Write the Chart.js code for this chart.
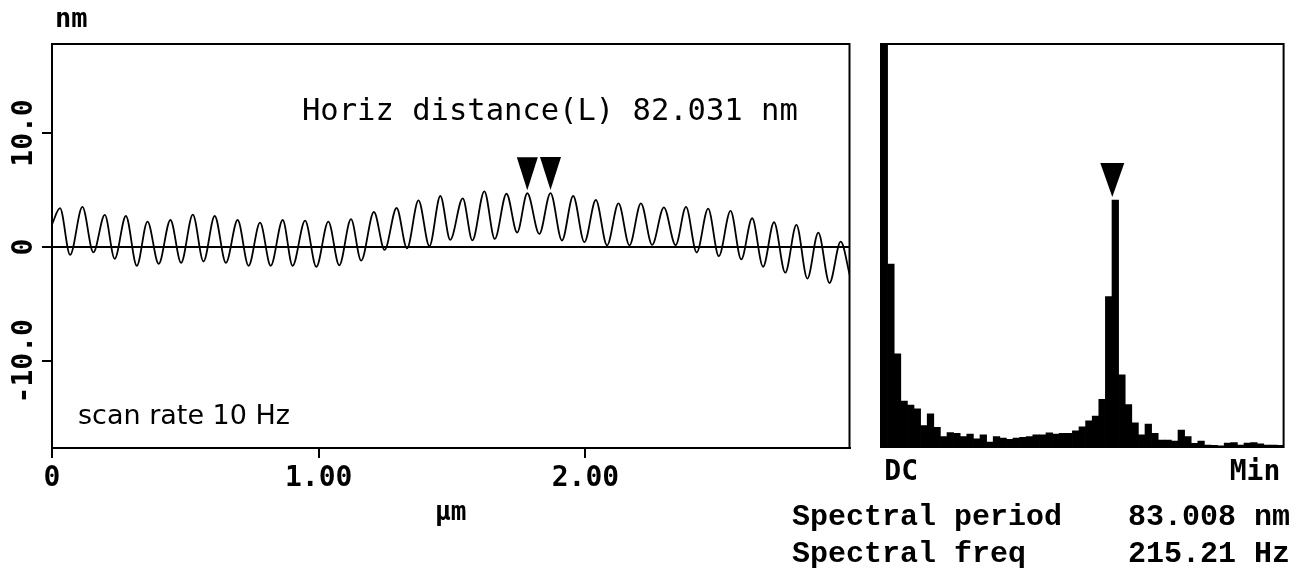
<!DOCTYPE html>
<html>
<head>
<meta charset="utf-8">
<script src="https://cdn.jsdelivr.net/npm/chart.js@4.4.1/dist/chart.umd.min.js"></script>
<style>
  html, body { margin: 0; padding: 0; background: #fff; }
  #wrap { position: relative; width: 1303px; height: 569px; overflow: hidden; background: #fff; }
  #profile { position: absolute; left: 0; top: 0; }
  #spectrum { position: absolute; left: 780px; top: 0; }
</style>
</head>
<body>
<div id="wrap">
  <canvas id="profile" width="870" height="569"></canvas>
  <canvas id="spectrum" width="523" height="569"></canvas>
</div>
<script>
// line profile: position along scan (um) and height (nm), crests and valleys in order
const profileX = [
  0.000, 0.030, 0.068, 0.114, 0.155, 0.198, 0.235, 0.277, 0.318, 0.358,
  0.400, 0.444, 0.484, 0.528, 0.568, 0.610, 0.652, 0.696, 0.737, 0.780,
  0.820, 0.865, 0.902, 0.949, 0.991, 1.036, 1.077, 1.121, 1.159, 1.207,
  1.247, 1.292, 1.331, 1.374, 1.415, 1.456, 1.493, 1.540, 1.576, 1.621,
  1.660, 1.704, 1.744, 1.782, 1.827, 1.869, 1.912, 1.954, 1.996, 2.039,
  2.081, 2.124, 2.165, 2.208, 2.250, 2.294, 2.338, 2.377, 2.417, 2.460,
  2.500, 2.544, 2.584, 2.625, 2.666, 2.707, 2.749, 2.791, 2.832, 2.873,
  2.915, 2.957, 2.992
];
const profileY = [
  2.00, 3.41, -0.67, 3.52, -0.45, 2.82, -1.02, 2.73, -1.63, 2.24,
  -1.46, 2.38, -1.37, 2.85, -1.26, 2.73, -1.37, 2.38, -1.63, 2.15,
  -1.63, 2.38, -1.63, 2.32, -1.72, 2.24, -1.59, 2.45, -1.18, 3.08,
  -0.24, 3.43, -0.10, 4.10, 0.09, 4.48, 0.64, 4.28, 0.59, 4.89,
  0.72, 4.68, 1.28, 4.72, 1.16, 4.74, 0.58, 4.48, 0.44, 4.13,
  0.16, 3.84, 0.16, 3.84, 0.20, 3.49, 0.17, 3.52, -0.47, 3.37,
  -0.79, 3.17, -1.08, 2.53, -1.72, 2.18, -2.24, 1.95, -2.75, 1.28,
  -3.14, 0.49, -2.55
];
// the two crests picked by the distance cursors
const cursorIdx = [43, 45];
const profileXTicks = [0, 1, 2];
const profileYTicks = [-10, 0, 10];

// power spectrum, DC bin first, in percent of panel height
const spectrum = [
  140, 45.4, 23.1, 11.4, 10.4, 9.5, 5.3, 8.2, 4.9, 2.6,
  3.6, 3.4, 2.6, 3.2, 2.0, 3.0, 1.2, 2.6, 2.2, 1.9,
  2.2, 2.4, 2.6, 3.0, 3.0, 3.5, 3.2, 3.4, 3.4, 4.0,
  5.0, 6.5, 7.7, 11.8, 37.3, 61.3, 17.9, 10.5, 6.0, 3.0,
  5.7, 3.4, 1.7, 1.7, 1.5, 4.2, 2.6, 0.9, 1.5, 0.5,
  0.4, 0.3, 1.0, 1.1, 0.5, 1.0, 1.1, 0.8, 0.5, 0.5, 0.4
];
const spectrumEnds = ['DC', 'Min'];

const horizText = 'Horiz distance(L) 82.031 nm';
const scanText = 'scan rate 10 Hz';
const periodRow = ['Spectral period', '83.008 nm'];
const freqRow = ['Spectral freq', '215.21 Hz'];

const MONO = '"DejaVu Sans Mono", monospace';

function downTriangle(ctx, x, tipY, halfW, h) {
  ctx.beginPath();
  ctx.moveTo(x, tipY);
  ctx.lineTo(x - halfW, tipY - h);
  ctx.lineTo(x + halfW, tipY - h);
  ctx.closePath();
  ctx.fill();
}

const profileDecor = {
  id: 'profileDecor',
  afterDraw(chart) {
    const {ctx, chartArea: a, scales: {y}} = chart;
    ctx.save();
    ctx.strokeStyle = '#000';
    ctx.lineWidth = 2;
    ctx.strokeRect(a.left, a.top, a.right - a.left, a.bottom - a.top);

    ctx.fillStyle = '#000';
    // vertical tick labels, read bottom to top
    ctx.font = 'bold 28px ' + MONO;
    ctx.textAlign = 'center';
    ctx.textBaseline = 'middle';
    profileYTicks.forEach(v => {
      ctx.save();
      ctx.translate(a.left - 27, y.getPixelForValue(v));
      ctx.rotate(-Math.PI / 2);
      ctx.fillText(v === 0 ? '0' : v.toFixed(1), 0, 0);
      ctx.restore();
    });

    ctx.textAlign = 'left';
    ctx.textBaseline = 'alphabetic';
    ctx.font = 'bold 27px ' + MONO;
    ctx.fillText('nm', a.left + 3, 27);

    ctx.font = '30.5px ' + MONO;
    ctx.fillText(horizText, 302, 120);

    ctx.font = '27px "DejaVu Sans", sans-serif';
    ctx.fillText(scanText, 78, 424);

    // cursors on the chosen crests
    const pts = chart.getDatasetMeta(0).data;
    cursorIdx.forEach(i => downTriangle(ctx, pts[i].x, pts[i].y - 3, 10.5, 33));
    ctx.restore();
  }
};

new Chart(document.getElementById('profile'), {
  type: 'line',
  data: {
    datasets: [{
      data: profileX.map((x, i) => ({x: x, y: profileY[i]})),
      borderColor: '#000',
      borderWidth: 1.8,
      pointRadius: 0,
      cubicInterpolationMode: 'monotone'
    }]
  },
  options: {
    responsive: false,
    animation: false,
    events: [],
    layout: {padding: {top: 44, right: 20.5, bottom: 0, left: 0}},
    plugins: {legend: {display: false}, tooltip: {enabled: false}},
    scales: {
      x: {
        type: 'linear',
        min: 0,
        max: 2.99,
        afterBuildTicks: s => { s.ticks = profileXTicks.map(v => ({value: v})); },
        afterFit: s => { s.height = 121; },
        ticks: {
          callback: v => v === 0 ? '0' : v.toFixed(2),
          font: {family: MONO, size: 28, weight: 'bold'},
          color: '#000',
          padding: 4,
          maxRotation: 0
        },
        grid: {drawOnChartArea: false, color: '#000', tickColor: '#000', tickLength: 10, lineWidth: 2},
        border: {color: '#000', width: 2},
        title: {
          display: true,
          text: 'µm',
          color: '#000',
          font: {family: MONO, size: 26, weight: 'bold'},
          padding: {top: 0, bottom: 40}
        }
      },
      y: {
        type: 'linear',
        min: -17.6,
        max: 17.8,
        afterBuildTicks: s => { s.ticks = profileYTicks.map(v => ({value: v})); },
        afterFit: s => { s.width = 52; },
        ticks: {display: false},
        grid: {
          color: c => (c.tick && c.tick.value === 0) ? '#000' : 'rgba(0,0,0,0)',
          tickColor: '#000',
          tickLength: 10,
          lineWidth: 2
        },
        border: {color: '#000', width: 2}
      }
    }
  },
  plugins: [profileDecor]
});

const spectrumDecor = {
  id: 'spectrumDecor',
  afterDraw(chart) {
    const {ctx, chartArea: a} = chart;
    ctx.save();
    ctx.strokeStyle = '#000';
    ctx.lineWidth = 2;
    ctx.strokeRect(a.left, a.top, a.right - a.left, a.bottom - a.top);

    // marker over the strongest non-DC bin
    let peak = 1;
    for (let i = 1; i < spectrum.length; i++) {
      if (spectrum[i] > spectrum[peak]) peak = i;
    }
    const bar = chart.getDatasetMeta(0).data[peak];
    ctx.fillStyle = '#000';
    downTriangle(ctx, bar.x - 3, bar.y - 3, 12, 34);

    ctx.font = 'bold 30px "Liberation Mono", monospace';
    ctx.textAlign = 'left';
    ctx.textBaseline = 'alphabetic';
    ctx.fillText(periodRow[0], 12, 525);
    ctx.fillText(periodRow[1], 348, 525);
    ctx.fillText(freqRow[0], 12, 562);
    ctx.fillText(freqRow[1], 348, 562);
    ctx.restore();
  }
};

const binLabels = spectrum.map((v, i) =>
  i === 0 ? spectrumEnds[0] : (i === spectrum.length - 1 ? spectrumEnds[1] : ''));

new Chart(document.getElementById('spectrum'), {
  type: 'bar',
  data: {
    labels: binLabels,
    datasets: [{
      data: spectrum,
      backgroundColor: '#000',
      borderWidth: 0,
      barPercentage: 1,
      categoryPercentage: 1
    }]
  },
  options: {
    responsive: false,
    animation: false,
    events: [],
    layout: {padding: {top: 44, right: 19.4, bottom: 0, left: 101}},
    plugins: {legend: {display: false}, tooltip: {enabled: false}},
    scales: {
      x: {
        afterBuildTicks: s => { s.ticks = [{value: 0}, {value: spectrum.length - 1}]; },
        afterFit: s => { s.height = 122; },
        ticks: {
          align: 'inner',
          autoSkip: false,
          maxRotation: 0,
          minRotation: 0,
          font: {family: MONO, size: 28, weight: 'bold'},
          color: '#000',
          padding: 9
        },
        grid: {display: false, drawTicks: false, tickLength: 0},
        border: {color: '#000', width: 2}
      },
      y: {
        display: false,
        min: 0,
        max: 100
      }
    }
  },
  plugins: [spectrumDecor]
});
</script>
</body>
</html>
